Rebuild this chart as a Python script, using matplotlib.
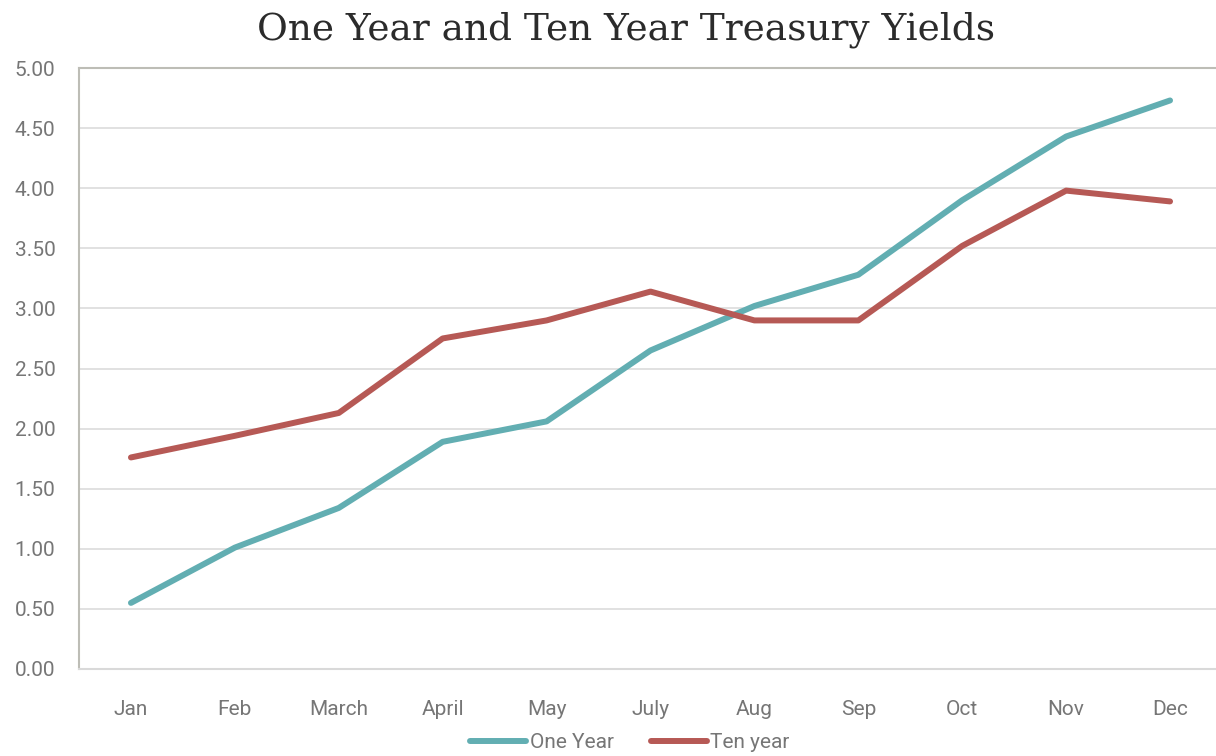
import matplotlib
matplotlib.use("Agg")
import matplotlib.pyplot as plt
from matplotlib import font_manager

months = ["Jan", "Feb", "March", "April", "May", "July", "Aug", "Sep", "Oct", "Nov", "Dec"]
one_year = [0.55, 1.01, 1.34, 1.89, 2.06, 2.65, 3.02, 3.28, 3.90, 4.43, 4.73]
ten_year = [1.76, 1.94, 2.13, 2.75, 2.90, 3.14, 2.90, 2.90, 3.52, 3.98, 3.89]
yticks = [0, 0.5, 1, 1.5, 2, 2.5, 3, 3.5, 4, 4.5, 5]

names = {f.name for f in font_manager.fontManager.ttflist}
label_font = "Liberation Sans Narrow" if "Liberation Sans Narrow" in names else "Roboto"
grey = "#767676"

fig = plt.figure(figsize=(12.16, 7.56), dpi=100)
ax = fig.add_axes([79 / 1216, 1 - 669 / 756, 1143 / 1216, 601 / 756])

x = list(range(len(months)))
ax.plot(x, one_year, color="#62aeb2", lw=4.3, solid_capstyle="round", solid_joinstyle="round", label="One Year")
ax.plot(x, ten_year, color="#b65955", lw=4.3, solid_capstyle="round", solid_joinstyle="round", label="Ten year")

ax.set_xlim(-0.5, len(months) - 0.5)
ax.set_ylim(0, 5)
ax.set_yticks(yticks)
ax.set_yticklabels([f"{v:.2f}" for v in yticks])
ax.set_xticks(x)
ax.set_xticklabels(months)
ax.yaxis.grid(True, color="#dedede", lw=1.3)
ax.set_axisbelow(True)
ax.spines["right"].set_visible(False)
ax.spines["top"].set_color("#bdbdb6")
ax.spines["top"].set_linewidth(1.5)
ax.spines["left"].set_color("#bdbdb6")
ax.spines["left"].set_linewidth(1.5)
ax.spines["bottom"].set_color("#d9d9d9")
ax.spines["bottom"].set_linewidth(1.5)
ax.tick_params(length=0, colors=grey, labelsize=15)
ax.tick_params(axis="y", pad=17)
ax.tick_params(axis="x", pad=22)
for t in ax.get_xticklabels() + ax.get_yticklabels():
    t.set_fontfamily(label_font)

fig.suptitle("One Year and Ten Year Treasury Yields", x=626 / 1216, y=0.985,
             fontsize=27, fontfamily="DejaVu Serif", color="#2b2b2b")

leg = fig.legend(loc="center", bbox_to_anchor=(630 / 1216, 1 - 743 / 756), ncol=2, frameon=False,
                 prop={"family": label_font, "size": 15}, handlelength=2.7, handletextpad=0.15,
                 columnspacing=1.8)
for t in leg.get_texts():
    t.set_color(grey)

fig.savefig("out.png", dpi=100)
